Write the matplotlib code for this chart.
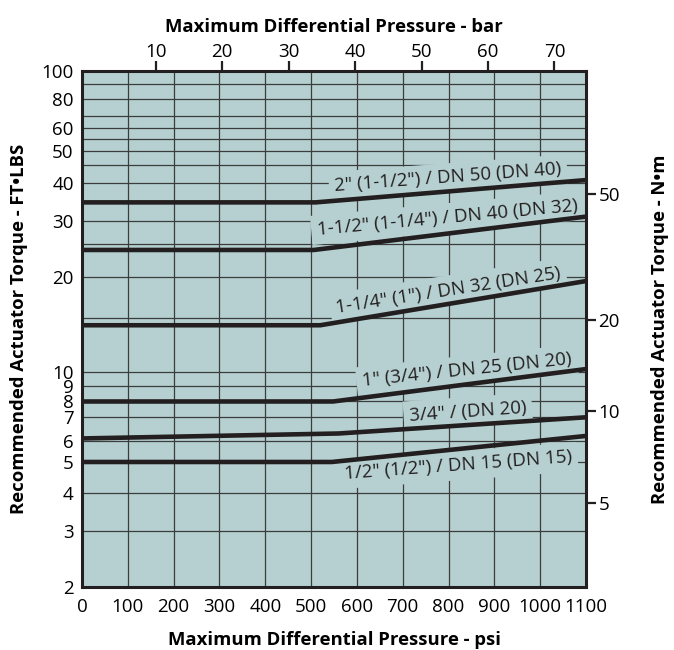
import numpy as np
import matplotlib
matplotlib.use("Agg")
import matplotlib.pyplot as plt

plt.rcParams['font.family'] = ['Open Sans', 'DejaVu Sans']

# valve sizes, psi break points and torque (ft-lbs)
series_labels = ['2" (1-1/2") / DN 50 (DN 40)',
                 '1-1/2" (1-1/4") / DN 40 (DN 32)',
                 '1-1/4" (1") / DN 32 (DN 25)',
                 '1" (3/4") / DN 25 (DN 20)',
                 '3/4" / (DN 20)',
                 '1/2" (1/2") / DN 15 (DN 15)']
psi_2in = [0, 510, 1100]
tq_2in = [34.5, 34.5, 40.7]
psi_1half = [0, 506, 1100]
tq_1half = [24, 24, 31]
psi_1quarter = [0, 520, 1100]
tq_1quarter = [14.2, 14.2, 19.4]
psi_1in = [0, 548, 1100]
tq_1in = [8, 8, 10.2]
psi_3q = [0, 560, 1100]
tq_3q = [6.1, 6.3, 7.0]
psi_half = [0, 545, 1100]
tq_half = [5, 5, 6.2]

# label anchor points (psi, ft-lbs) and angle
label_psi = [799, 797, 799, 840, 842, 821]
label_tq = [41.3, 30.7, 18.2, 10.1, 7.34, 4.87]
label_rot = [4.3, 5.3, 8.8, 6.0, 4.0, 4.3]

x_ticks = list(range(0, 1101, 100))
y_major = [2, 3, 4, 5, 6, 7, 8, 9, 10, 20, 30, 40, 50, 60, 80, 100]
y_minor = [15, 25, 45, 55, 70, 90]
bar_ticks = [10, 20, 30, 40, 50, 60, 70]
nm_ticks = [5, 10, 20, 50]
NM_PER_FTLB = 1.35582
PSI_PER_BAR = 14.5038

# the printed log grid is hand drawn and not quite even, so the y scale
# follows the printed gridlines (value -> height in px above the bottom)
grid_vals = np.array([0.01, 2, 3, 4, 5, 6, 7, 8, 9, 10, 15, 20, 25, 30, 40,
                      45, 50, 55, 60, 70, 80, 90, 100, 10000])
grid_px = np.array([-697, 0, 56.0, 94.0, 124.7, 145.7, 169.4, 185.2, 200.7,
                    215.0, 268.7, 310.0, 342.7, 365.7, 404.0, 421.7, 436.0,
                    447.4, 459.0, 471.0, 487.4, 502.4, 515.7, 1121.7])
log_vals = np.log10(grid_vals)


def fwd(v):
    v = np.clip(np.asarray(v, dtype=float), 1e-2, 1e4)
    return np.interp(np.log10(v), log_vals, grid_px)


def inv(p):
    return 10 ** np.interp(p, grid_px, log_vals)


bg = '#b6d0d1'
ink = '#231f20'
fs = 13.5

fig = plt.figure(figsize=(6.74, 6.5), dpi=100)
ax = fig.add_axes([0.1217, 0.0974, 0.7477, 0.7934])
ax.set_facecolor(bg)
ax.set_yscale('function', functions=(fwd, inv))
ax.set_xlim(0, 1100)
ax.set_ylim(2, 100)

ax.set_xticks(x_ticks)
ax.set_yticks(y_major, labels=[str(v) for v in y_major])
ax.set_yticks(y_minor, minor=True)
ax.yaxis.set_minor_formatter(matplotlib.ticker.NullFormatter())
ax.grid(True, which='both', color='#3c3c3c', linewidth=0.9)
ax.set_axisbelow(True)
ax.tick_params(axis='both', which='both', length=0, labelsize=fs)
ax.tick_params(axis='x', pad=8)
ax.tick_params(axis='y', pad=6)

for s in ax.spines.values():
    s.set_linewidth(2.2)
    s.set_color(ink)

all_psi = [psi_2in, psi_1half, psi_1quarter, psi_1in, psi_3q, psi_half]
all_tq = [tq_2in, tq_1half, tq_1quarter, tq_1in, tq_3q, tq_half]
for px, tq in zip(all_psi, all_tq):
    ax.plot(px, tq, color=ink, linewidth=3.3, solid_capstyle='butt',
            zorder=3)

for lab, lx, ly, rot in zip(series_labels, label_psi, label_tq, label_rot):
    ax.text(lx, ly, lab, fontsize=fs, ha='center', va='center',
            rotation=rot, rotation_mode='anchor', color=ink, zorder=2,
            bbox=dict(boxstyle='square,pad=0.3', facecolor=bg,
                      edgecolor='none'))

# top axis in bar (scale as printed on the chart, slightly offset)
top = ax.secondary_xaxis('top', functions=(lambda p: (p - 16) / PSI_PER_BAR,
                                           lambda b: b * PSI_PER_BAR + 16))
top.set_xticks(bar_ticks)
top.tick_params(length=7, width=1.6, labelsize=fs, pad=0, color=ink)
top.spines['top'].set_visible(False)
top.set_xlabel('Maximum Differential Pressure - bar', fontsize=13.3,
               fontweight='bold', labelpad=8)

# right axis in N·m
right = ax.twinx()
right.set_yscale('function', functions=(fwd, inv))
right.set_ylim(ax.get_ylim())
right.set_yticks([v / NM_PER_FTLB for v in nm_ticks],
                 labels=[str(v) for v in nm_ticks])
right.yaxis.set_minor_locator(matplotlib.ticker.NullLocator())
right.tick_params(length=7, width=1.6, labelsize=fs, pad=2, color=ink)
for s in right.spines.values():
    s.set_visible(False)
right.set_ylabel('Recommended Actuator Torque - N•m', fontsize=13.3,
                 fontweight='bold', labelpad=22)

ax.set_xlabel('Maximum Differential Pressure - psi', fontsize=13.3,
              fontweight='bold', labelpad=11)
ax.set_ylabel('Recommended Actuator Torque - FT•LBS', fontsize=13.3,
              fontweight='bold', labelpad=10)

fig.savefig('out.png', dpi=100)
